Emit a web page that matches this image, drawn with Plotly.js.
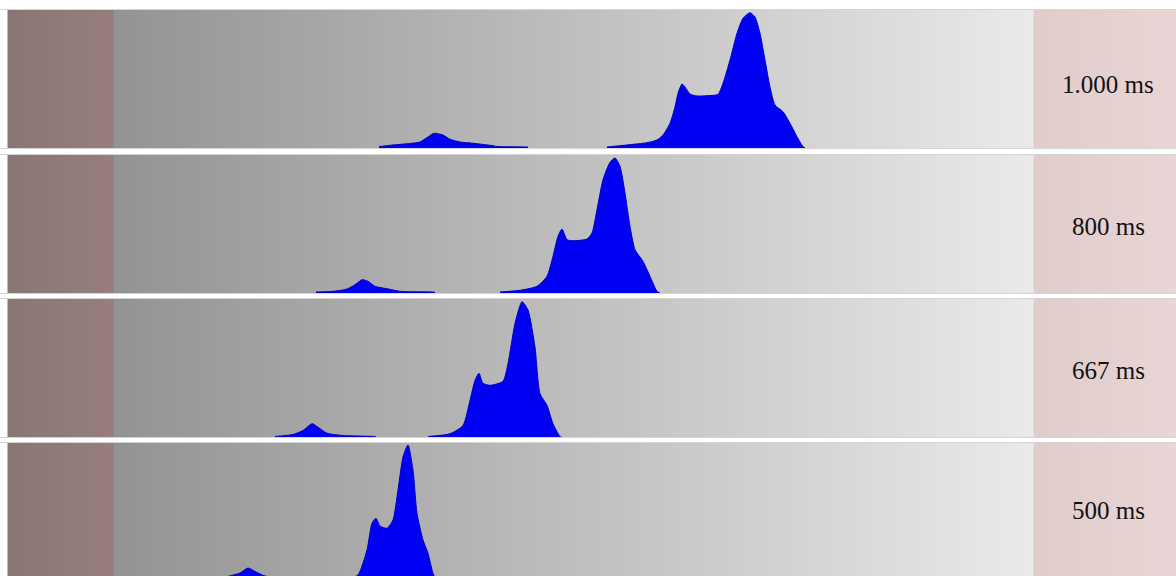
<!DOCTYPE html>
<html>
<head>
<meta charset="utf-8">
<script src="https://cdn.plot.ly/plotly-3.0.1.min.js"></script>
<style>html,body{margin:0;padding:0;background:#fff;}#chart{width:1176px;height:576px;}</style>
</head>
<body>
<div id="chart"></div>
<script>
// Panel labels (period)
const panelLabels = ["1.000 ms", "800 ms", "667 ms", "500 ms"];

// Histogram profiles per panel (x: horizontal bin position, y: count height); null separates the two lobes
const x1000 = [379,393,410,420,428,434,443,450,460,473,493,497,527,528,null,607,627,647,657,663,670,675,678,682,685,690,697,707,718,723,730,737,743,750,755,760,765,770,775,783,790,797,803,805];
const y1000 = [1.3,3,4.5,6,11,14.7,13,8.7,6,4.7,2.3,1.5,1,1,null,1,3,5.3,8,13,24.7,41,54.7,64,61,54,52,52.3,53.7,64.7,88,114.7,129.7,135.3,131,114.7,88,61,43,36.3,24.7,11.3,1.3,0];

const x800 = [316,333,347,355,362,368,375,387,400,433,435,null,500,520,537,547,553,558,562,567,573,587,592,597,603,610,615,620,625,630,635,643,650,657,660];
const y800 = [1,1.7,4,8.3,13.3,11.7,6.7,4.3,1.7,1,0.8,null,1,2.7,6.7,16.7,36.7,56.7,64,53.3,52.3,54,60,83.3,113.3,130.7,135,126.7,100,66.7,43.3,31.7,16.7,1.7,0];

const x667 = [275,293,303,312,318,327,343,375,376,null,428,450,463,470,475,479,483,490,503,508,515,522,528,535,540,547,553,560,562];
const y667 = [1,3,7,13.7,10.3,4.3,2,1,0.8,null,1,3.7,12,37,57,64,54,52,56,73.7,113.7,135.3,127,90,43.7,32,13.7,1,0];

const x500 = [205,225,240,248,256,265,290,292,null,335,350,358,367,372,376,380,387,393,398,403,408,413,417,423,428,433,437];
const y500 = [1,4,8,13,9,5,1.5,1,null,1,3,6,31,57.7,62.7,55,52.7,61,91,124,136,111,67.7,41,27.7,7.7,0];

const labelY = [63.5, 67, 67, 71];

const seriesX = [x1000, x800, x667, x500];
const seriesY = [y1000, y800, y667, y500];

// layout geometry
const domains = [[0.7431,0.9826],[0.4913,0.7309],[0.2405,0.4809],[0,0.2309]];
const yRanges = [[0,138],[0,138],[0,138],[5,138]];

function splitAtNull(xs, ys) {
  const parts = [];
  let cx = [], cy = [];
  for (let k = 0; k < xs.length; k++) {
    if (xs[k] === null || ys[k] === null) {
      if (cx.length) parts.push([cx, cy]);
      cx = []; cy = [];
    } else { cx.push(xs[k]); cy.push(ys[k]); }
  }
  if (cx.length) parts.push([cx, cy]);
  return parts;
}

function bgTrace(i) {
  const sections = [[7.5,113,0,1,20],[113,1033,1,2,230],[1033,1176,2,3,36]];
  const edges = [], row = [];
  sections.forEach((s) => {
    const [a,b,za,zb,n] = s;
    for (let j = 0; j < n; j++) {
      edges.push(a + (b-a)*j/n);
      row.push(za + (zb-za)*(j+0.5)/n);
    }
  });
  edges.push(1176);
  const sfx = i === 0 ? '' : String(i+1);
  return {
    type: 'heatmap', x: edges, y: [-10, 200], z: [row],
    zmin: 0, zmax: 3, showscale: false, hoverinfo: 'skip',
    colorscale: [[0,'#8a7575'],[0.3333,'#967e7e'],[0.33334,'#939393'],[0.6666,'#eaeaea'],[0.6667,'#e1cccc'],[1,'#e9d5d5']],
    xaxis: 'x'+sfx, yaxis: 'y'+sfx
  };
}

const traces = [];
const layout = {
  width: 1176, height: 576,
  margin: {l:0, r:0, t:0, b:0},
  paper_bgcolor: '#ffffff', plot_bgcolor: '#ffffff',
  showlegend: false,
  annotations: []
};

for (let i = 0; i < 4; i++) {
  const sfx = i === 0 ? '' : String(i+1);
  traces.push(bgTrace(i));
  splitAtNull(seriesX[i], seriesY[i]).forEach(([px, py]) => {
    traces.push({
      type: 'scatter', mode: 'lines', x: px, y: py,
      fill: 'tozeroy', fillcolor: '#0000f2',
      line: {color: '#0000c0', width: 1, shape: 'spline', smoothing: 0.6}, hoverinfo: 'skip',
      xaxis: 'x'+sfx, yaxis: 'y'+sfx
    });
  });
  layout['xaxis'+sfx] = {
    range: [0,1176], domain: [0,1], anchor: 'y'+sfx,
    showgrid: false, zeroline: false, showticklabels: false, ticks: '',
    showline: true, mirror: true, linecolor: '#d4d4d4', linewidth: 1
  };
  layout['yaxis'+sfx] = {
    range: yRanges[i], domain: domains[i], anchor: 'x'+sfx,
    showgrid: false, zeroline: false, showticklabels: false, ticks: '', showline: false
  };
  layout.annotations.push({
    text: panelLabels[i], xref: 'x'+sfx, yref: 'y'+sfx, x: 1108, y: labelY[i],
    xanchor: 'center', yanchor: 'middle', showarrow: false,
    font: {family: 'Liberation Serif, Times New Roman, serif', size: 25, color: '#111111'}
  });
}

Plotly.newPlot('chart', traces, layout, {displayModeBar: false, staticPlot: true});
</script>
</body>
</html>
